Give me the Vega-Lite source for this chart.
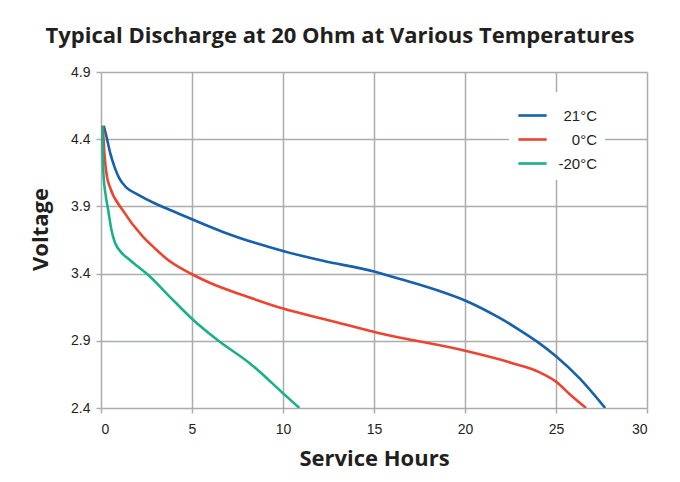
{
  "$schema": "https://vega.github.io/schema/vega-lite/v6.json",
  "autosize": {"type": "none"},
  "width": 546,
  "height": 336,
  "padding": {"left": 101, "top": 72, "right": 33, "bottom": 74},
  "background": "white",
  "title": {
    "text": "Typical Discharge at 20 Ohm at Various Temperatures",
    "font": "Open Sans",
    "fontSize": 22,
    "fontWeight": "bold",
    "color": "#231f20",
    "anchor": "middle",
    "dx": -34,
    "offset": 17
  },
  "data": {
    "values": [
      {"h": 0.15, "v": 4.50, "t": "21°C"},
      {"h": 0.3, "v": 4.42, "t": "21°C"},
      {"h": 0.5, "v": 4.30, "t": "21°C"},
      {"h": 0.75, "v": 4.19, "t": "21°C"},
      {"h": 1.0, "v": 4.11, "t": "21°C"},
      {"h": 1.4, "v": 4.04, "t": "21°C"},
      {"h": 2.0, "v": 3.99, "t": "21°C"},
      {"h": 3.0, "v": 3.92, "t": "21°C"},
      {"h": 4.0, "v": 3.862, "t": "21°C"},
      {"h": 4.9, "v": 3.81, "t": "21°C"},
      {"h": 6.7, "v": 3.71, "t": "21°C"},
      {"h": 8.5, "v": 3.627, "t": "21°C"},
      {"h": 10.0, "v": 3.568, "t": "21°C"},
      {"h": 12.2, "v": 3.495, "t": "21°C"},
      {"h": 15.0, "v": 3.415, "t": "21°C"},
      {"h": 15.9, "v": 3.38, "t": "21°C"},
      {"h": 17.2, "v": 3.33, "t": "21°C"},
      {"h": 18.6, "v": 3.27, "t": "21°C"},
      {"h": 20.0, "v": 3.20, "t": "21°C"},
      {"h": 21.9, "v": 3.07, "t": "21°C"},
      {"h": 23.0, "v": 2.98, "t": "21°C"},
      {"h": 24.0, "v": 2.89, "t": "21°C"},
      {"h": 25.0, "v": 2.785, "t": "21°C"},
      {"h": 26.3, "v": 2.62, "t": "21°C"},
      {"h": 27.7, "v": 2.40, "t": "21°C"},
      {"h": 0.1, "v": 4.50, "t": "0°C"},
      {"h": 0.2, "v": 4.27, "t": "0°C"},
      {"h": 0.33, "v": 4.12, "t": "0°C"},
      {"h": 0.5, "v": 4.04, "t": "0°C"},
      {"h": 1.2, "v": 3.87, "t": "0°C"},
      {"h": 2.3, "v": 3.675, "t": "0°C"},
      {"h": 3.06, "v": 3.576, "t": "0°C"},
      {"h": 3.6, "v": 3.51, "t": "0°C"},
      {"h": 5.0, "v": 3.395, "t": "0°C"},
      {"h": 6.0, "v": 3.33, "t": "0°C"},
      {"h": 8.0, "v": 3.23, "t": "0°C"},
      {"h": 10.0, "v": 3.14, "t": "0°C"},
      {"h": 12.6, "v": 3.05, "t": "0°C"},
      {"h": 15.3, "v": 2.956, "t": "0°C"},
      {"h": 20.0, "v": 2.826, "t": "0°C"},
      {"h": 22.7, "v": 2.73, "t": "0°C"},
      {"h": 24.1, "v": 2.665, "t": "0°C"},
      {"h": 25.0, "v": 2.596, "t": "0°C"},
      {"h": 25.8, "v": 2.497, "t": "0°C"},
      {"h": 26.65, "v": 2.40, "t": "0°C"},
      {"h": 0.05, "v": 4.50, "t": "-20°C"},
      {"h": 0.09, "v": 4.30, "t": "-20°C"},
      {"h": 0.14, "v": 4.13, "t": "-20°C"},
      {"h": 0.25, "v": 3.99, "t": "-20°C"},
      {"h": 0.4, "v": 3.87, "t": "-20°C"},
      {"h": 0.58, "v": 3.72, "t": "-20°C"},
      {"h": 0.77, "v": 3.63, "t": "-20°C"},
      {"h": 1.1, "v": 3.56, "t": "-20°C"},
      {"h": 1.6, "v": 3.50, "t": "-20°C"},
      {"h": 2.7, "v": 3.377, "t": "-20°C"},
      {"h": 3.8, "v": 3.225, "t": "-20°C"},
      {"h": 5.07, "v": 3.055, "t": "-20°C"},
      {"h": 6.4, "v": 2.906, "t": "-20°C"},
      {"h": 8.2, "v": 2.73, "t": "-20°C"},
      {"h": 10.0, "v": 2.51, "t": "-20°C"},
      {"h": 10.9, "v": 2.40, "t": "-20°C"}
    ]
  },
  "mark": {"type": "line", "interpolate": "monotone", "strokeWidth": 2.6, "clip": true},
  "encoding": {
    "x": {
      "field": "h", "type": "quantitative",
      "scale": {"domain": [0, 30], "nice": false, "zero": false},
      "axis": {
        "values": [0, 5, 10, 15, 20, 25, 30],
        "title": "Service Hours",
        "titleY": 50,
        "titleBaseline": "middle"
      }
    },
    "y": {
      "field": "v", "type": "quantitative",
      "scale": {"domain": [2.4, 4.9], "nice": false, "zero": false},
      "axis": {
        "values": [2.4, 2.9, 3.4, 3.9, 4.4, 4.9],
        "format": ".1f",
        "title": "Voltage",
        "titleX": -61,
        "titleY": 157,
        "titleAngle": -90,
        "titleAlign": "center",
        "titleBaseline": "middle"
      }
    },
    "color": {
      "field": "t", "type": "nominal",
      "scale": {"domain": ["21°C", "0°C", "-20°C"], "range": ["#1760ad", "#ec4430", "#1bb08c"]},
      "legend": {
        "title": null,
        "orient": "none",
        "legendX": 408,
        "legendY": 20,
        "padding": 8,
        "fillColor": "white",
        "symbolType": "stroke",
        "symbolSize": 800,
        "symbolStrokeWidth": 2.6,
        "labelFont": "Liberation Sans",
        "labelFontSize": 15,
        "labelColor": "#231f20",
        "labelAlign": "right",
        "labelOffset": 49,
        "rowPadding": -4
      }
    }
  },
  "config": {
    "view": {"stroke": null},
    "axis": {
      "domain": false,
      "grid": true,
      "gridColor": "#a9adad",
      "gridWidth": 1.5,
      "gridOpacity": 1,
      "ticks": true,
      "tickColor": "#a9adad",
      "tickWidth": 1.5,
      "tickSize": 5,
      "labelFont": "Liberation Sans",
      "labelFontSize": 14,
      "labelColor": "#231f20",
      "labelPadding": 6,
      "titleFont": "Open Sans",
      "titleFontSize": 22,
      "titleFontWeight": "bold",
      "titleColor": "#231f20"
    },
    "axisX": {"labelPadding": 9}
  }
}
